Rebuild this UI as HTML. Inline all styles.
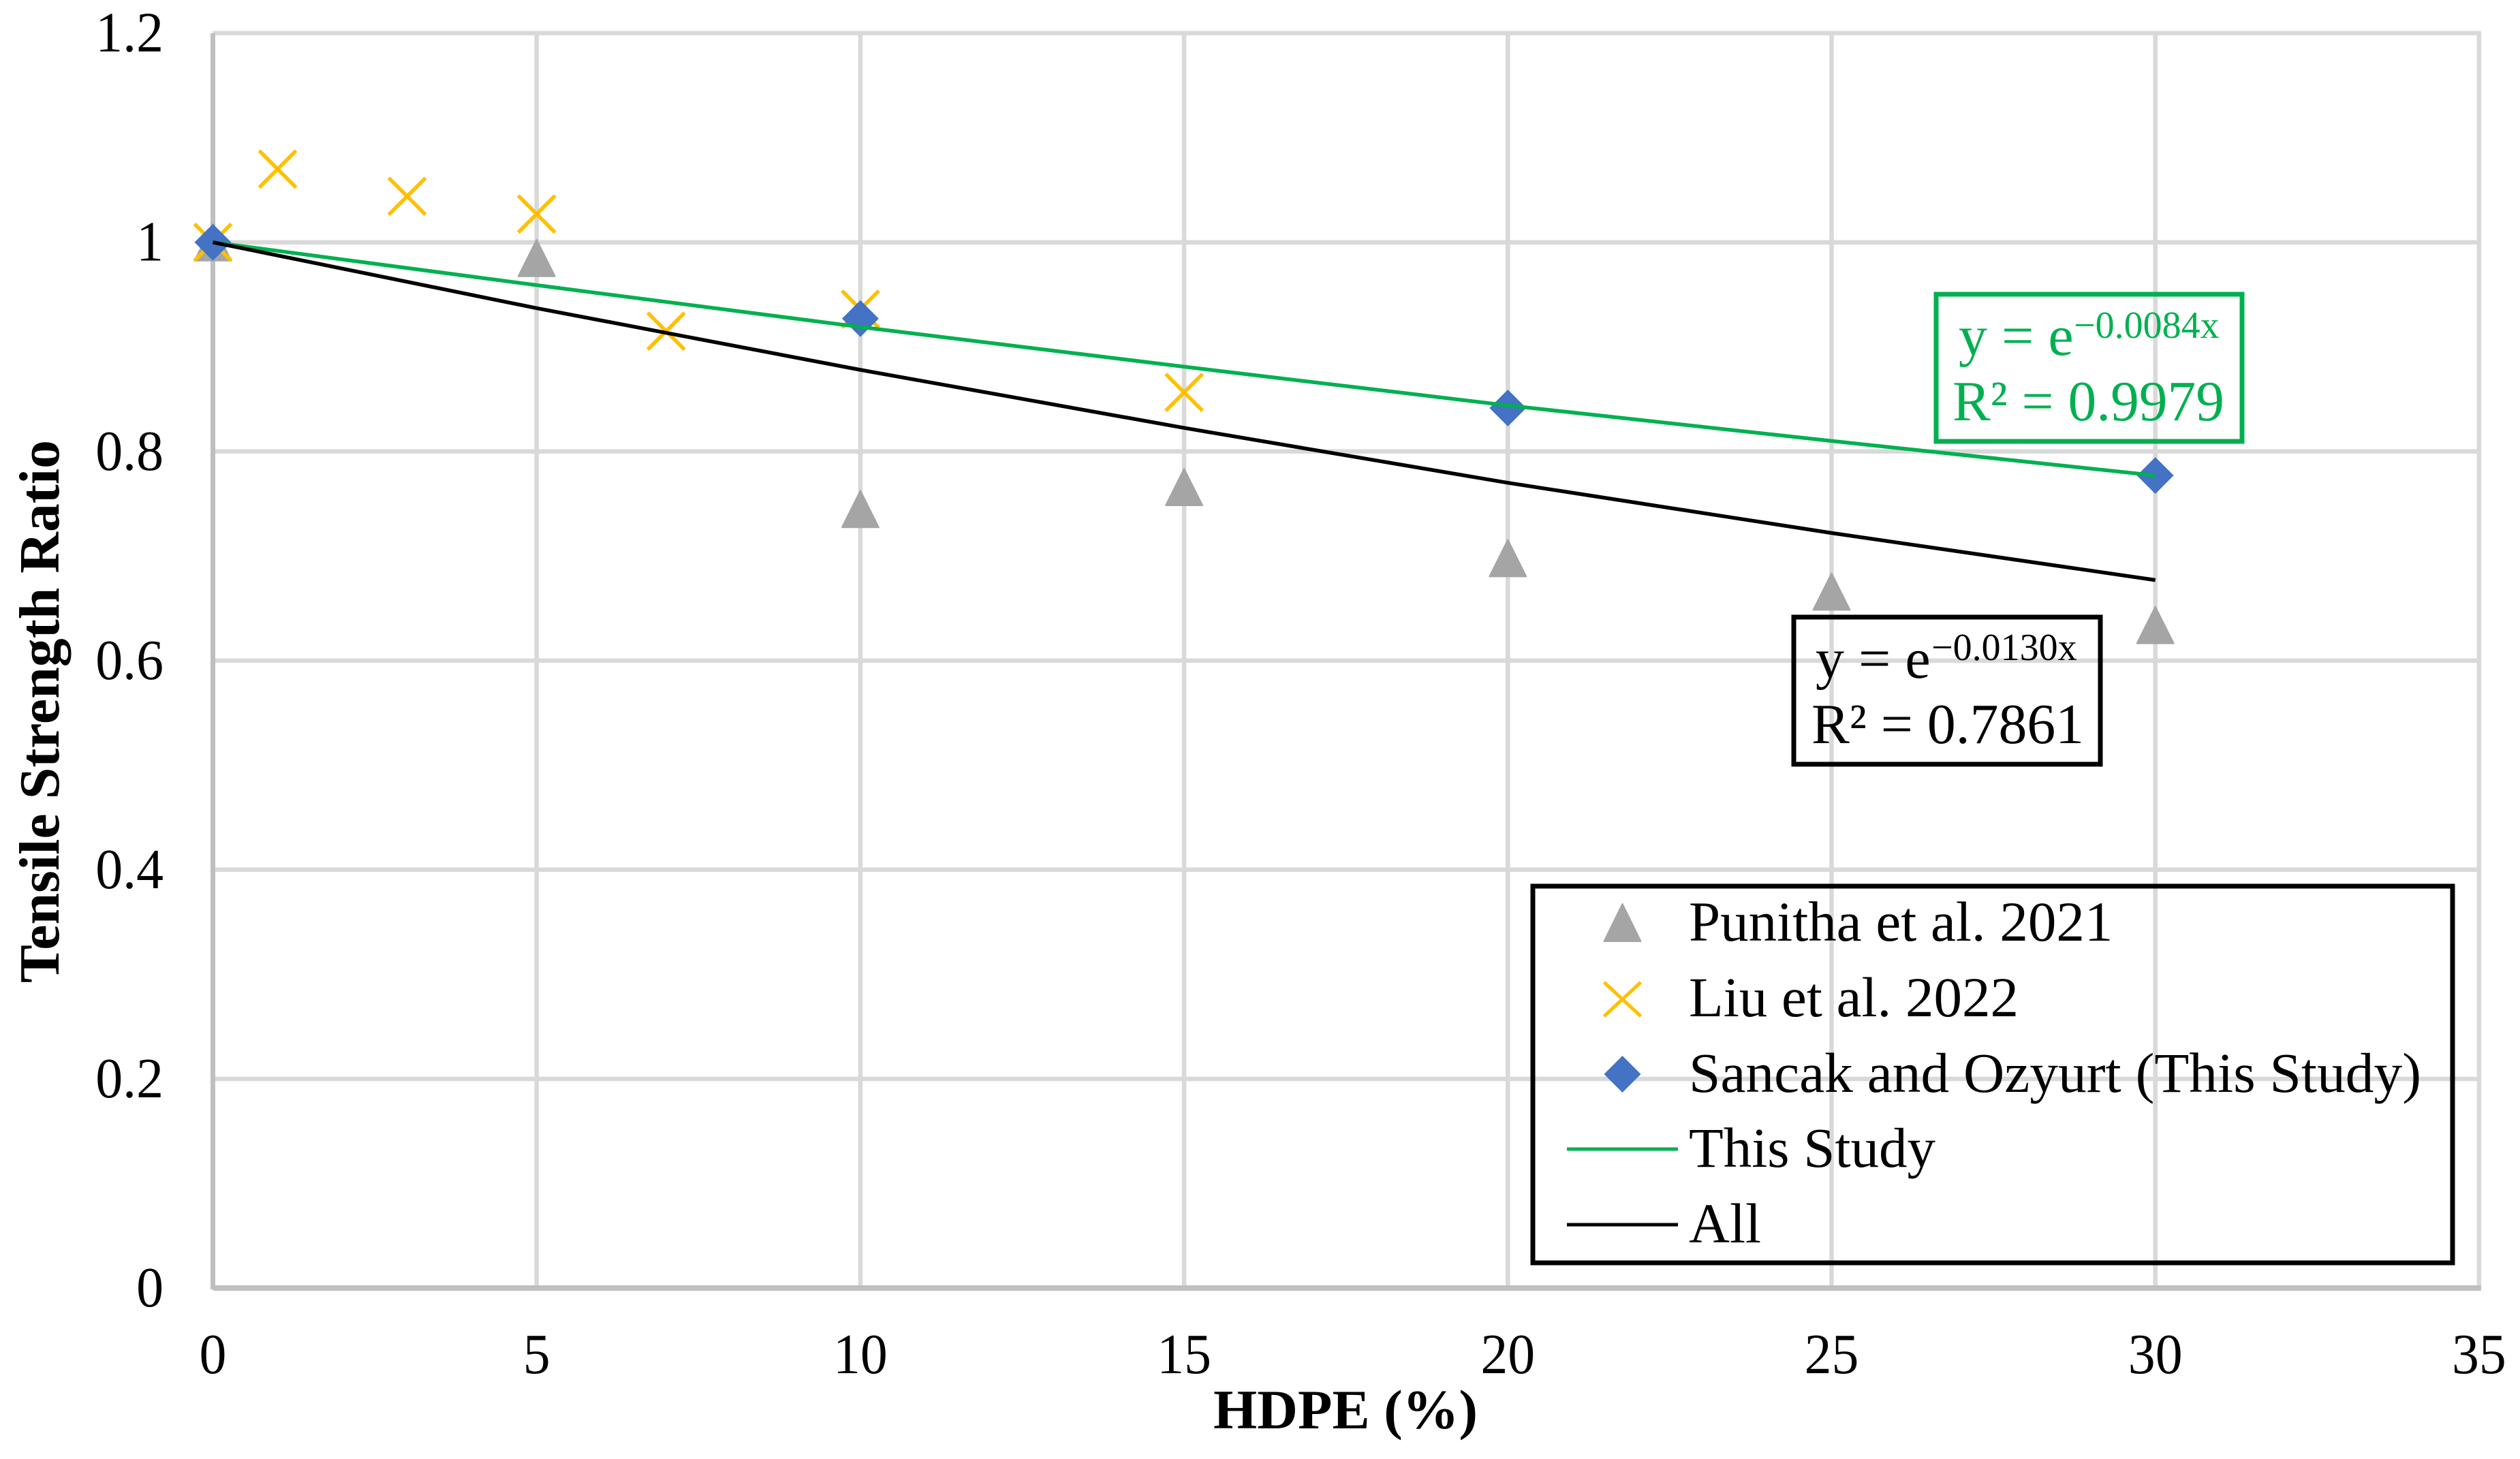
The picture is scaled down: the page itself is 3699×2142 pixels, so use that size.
<!DOCTYPE html>
<html lang="en">
<head>
<meta charset="utf-8">
<title>Tensile Strength Ratio vs HDPE</title>
<style>
html,body{margin:0;padding:0;background:#fff;}
svg{display:block;}
text{font-family:"Liberation Serif","Times New Roman",serif;fill:#000;}
</style>
</head>
<body>
<svg id="chart" xmlns="http://www.w3.org/2000/svg" width="3699" height="2142" viewBox="0 0 3699 2142">
  <rect x="0" y="0" width="3699" height="2142" fill="#fff"/>
  <g id="grid"></g>
  <g id="axes"></g>
  <g id="ticks" font-size="84"></g>
  <g id="marks"></g>
  <text x="1781" y="2097" font-size="82" font-weight="bold" textLength="388" lengthAdjust="spacingAndGlyphs">HDPE (%)</text>
  <text transform="translate(86 1443) rotate(-90)" x="0" y="0" font-size="84" font-weight="bold" textLength="797" lengthAdjust="spacingAndGlyphs">Tensile Strength Ratio</text>

  <g style="fill:#00B050">
    <rect x="2842" y="432" width="449" height="216" fill="none" stroke="#00B050" stroke-width="7"/>
    <text x="2875" y="521" font-size="84" style="fill:#00B050">y = e</text>
    <text x="3044" y="496" font-size="56" style="fill:#00B050">−0.0084x</text>
    <text x="2866" y="617" font-size="84" textLength="399" lengthAdjust="spacingAndGlyphs" style="fill:#00B050">R² = 0.9979</text>
  </g>
  <g>
    <rect x="2633" y="906" width="450" height="216" fill="none" stroke="#000" stroke-width="7"/>
    <text x="2665" y="995" font-size="84">y = e</text>
    <text x="2835" y="969" font-size="56">−0.0130x</text>
    <text x="2659" y="1091" font-size="84" textLength="400" lengthAdjust="spacingAndGlyphs">R² = 0.7861</text>
  </g>

  <g>
    <rect x="2250" y="1301" width="1350" height="553" fill="none" stroke="#000" stroke-width="7"/>
    <path d="M2381.5 1327L2408.5 1382L2354.5 1382Z" fill="#A5A5A5" stroke="#A5A5A5" stroke-width="2" stroke-linejoin="round"/>
    <path d="M2354.5 1442L2408.5 1492M2408.5 1442L2354.5 1492" stroke="#FFC000" stroke-width="5" fill="none"/>
    <path d="M2381.5 1550L2408.5 1577L2381.5 1604L2354.5 1577Z" fill="#4472C4"/>
    <line x1="2300" y1="1687" x2="2463" y2="1687" stroke="#00B050" stroke-width="5"/>
    <line x1="2300" y1="1798" x2="2463" y2="1798" stroke="#000" stroke-width="5"/>
    <text x="2479" y="1381" font-size="83">Punitha et al. 2021</text>
    <text x="2479" y="1492" font-size="83">Liu et al. 2022</text>
    <text x="2479" y="1603" font-size="83" textLength="1075" lengthAdjust="spacingAndGlyphs">Sancak and Ozyurt (This Study)</text>
    <text x="2479" y="1713" font-size="83">This Study</text>
    <text x="2479" y="1824" font-size="83">All</text>
  </g>
</svg>
<script>
const xTicks = [0, 5, 10, 15, 20, 25, 30, 35];
const yTicks = [0, 0.2, 0.4, 0.6, 0.8, 1, 1.2];

const punithaX = [0, 5, 10, 15, 20, 25, 30];
const punithaY = [1, 0.985, 0.745, 0.766, 0.698, 0.666, 0.634];
const liuX = [0, 1, 3, 5, 7, 10, 15];
const liuY = [1, 1.07, 1.044, 1.027, 0.915, 0.936, 0.8565];
const sancakX = [0, 10, 20, 30];
const sancakY = [1, 0.927, 0.8415, 0.777];
const trendX = [0, 5, 10, 15, 20, 25, 30];
const thisStudyTrendY = [1, 0.959, 0.919, 0.881, 0.844, 0.81, 0.777];
const allTrendY = [1, 0.937, 0.878, 0.8225, 0.77, 0.722, 0.677];

const NS = 'http://www.w3.org/2000/svg';
const sx = v => 312.5 + v * 95.04;
const sy = v => 1891 - v * 1535.3;
const MARK = 27;

function make(tag, parent, attrs) {
  const el = document.createElementNS(NS, tag);
  for (const k in attrs) el.setAttribute(k, attrs[k]);
  parent.appendChild(el);
  return el;
}

function condense(t) {
  const w = t.getComputedTextLength() * 0.95;
  t.setAttribute('textLength', w);
  t.setAttribute('lengthAdjust', 'spacingAndGlyphs');
}

const grid = document.getElementById('grid');
const axes = document.getElementById('axes');
const ticks = document.getElementById('ticks');
const marks = document.getElementById('marks');

xTicks.forEach(v => {
  if (v !== 0) {
    const g = make('line', grid, {x1: sx(v), x2: sx(v), y1: sy(1.2), y2: sy(0), stroke: '#D9D9D9', 'stroke-width': 6.5});
    
    
  }
  const t = make('text', ticks, {x: sx(v), y: 2016, 'text-anchor': 'middle'});
  t.textContent = v;
  
  
  condense(t);
});

yTicks.forEach(v => {
  if (v !== 0) {
    const g = make('line', grid, {x1: sx(0), x2: sx(35) + 3, y1: sy(v), y2: sy(v), stroke: '#D9D9D9', 'stroke-width': 6.5});
    
    
  }
  const t = make('text', ticks, {x: 240, y: sy(v) + 27, 'text-anchor': 'end'});
  t.textContent = v;
  
  
  condense(t);
});

const yAxis = make('line', axes, {x1: sx(0), x2: sx(0), y1: sy(1.2), y2: sy(0) + 2, stroke: '#BFBFBF', 'stroke-width': 7});


const xAxis = make('line', axes, {x1: sx(0), x2: sx(35) + 3, y1: sy(0), y2: sy(0), stroke: '#BFBFBF', 'stroke-width': 8});



punithaX.forEach((x, i) => {
  const cx = sx(x), cy = sy(punithaY[i]);
  const m = make('path', marks, {d: `M${cx} ${cy - MARK}L${cx + MARK} ${cy + MARK}L${cx - MARK} ${cy + MARK}Z`, fill: '#A5A5A5', stroke: '#A5A5A5', 'stroke-width': 2, 'stroke-linejoin': 'round'});
  
  
});

liuX.forEach((x, i) => {
  const cx = sx(x), cy = sy(liuY[i]);
  const m = make('path', marks, {d: `M${cx - MARK} ${cy - MARK}L${cx + MARK} ${cy + MARK}M${cx + MARK} ${cy - MARK}L${cx - MARK} ${cy + MARK}`, fill: 'none', stroke: '#FFC000', 'stroke-width': 5.5});
  
  
});

sancakX.forEach((x, i) => {
  const cx = sx(x), cy = sy(sancakY[i]);
  const m = make('path', marks, {d: `M${cx} ${cy - MARK}L${cx + MARK} ${cy}L${cx} ${cy + MARK}L${cx - MARK} ${cy}Z`, fill: '#4472C4'});
  
  
});

const greenPts = trendX.map((x, i) => sx(x) + ',' + sy(thisStudyTrendY[i])).join(' ');
const greenLine = make('polyline', marks, {points: greenPts, fill: 'none', stroke: '#00B050', 'stroke-width': 5.5});



const blackPts = trendX.map((x, i) => sx(x) + ',' + sy(allTrendY[i])).join(' ');
const blackLine = make('polyline', marks, {points: blackPts, fill: 'none', stroke: '#000', 'stroke-width': 5.5});


</script>
</body>
</html>
